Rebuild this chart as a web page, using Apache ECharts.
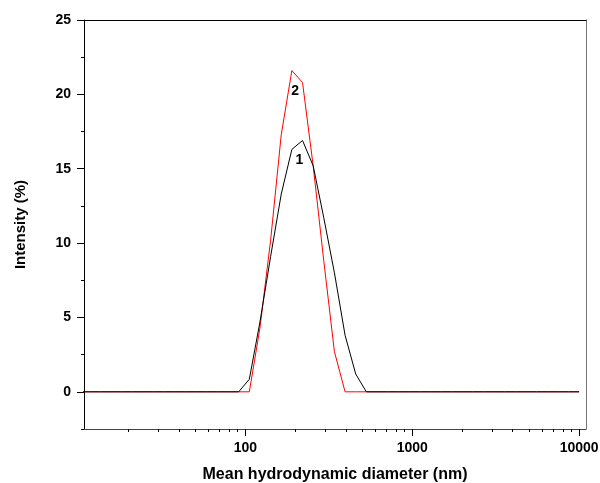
<!DOCTYPE html>
<html>
<head>
<meta charset="utf-8">
<script src="https://cdn.jsdelivr.net/npm/echarts@6/dist/echarts.min.js"></script>
<style>
  html, body { margin: 0; padding: 0; background: #fff; }
  #chart { width: 600px; height: 483px; }
</style>
</head>
<body>
<div id="chart"></div>
<script>
// size bins (nm), log spaced
var diameters = [10.1, 11.7, 13.54, 15.69, 18.17, 21.04, 24.36, 28.21, 32.67, 37.84,
    43.82, 50.75, 58.77, 68.06, 78.82, 91.28, 105.7, 122.4, 141.8, 164.2,
    190.1, 220.2, 255, 295.3, 342, 396.1, 458.7, 531.2, 615.1, 712.4,
    825, 955.4, 1106, 1281, 1484, 1718, 1990, 2305, 2669, 3091,
    3580, 4145, 4801, 5560, 6439, 7456, 8635, 10000];

// intensity (%) per bin
var sample1 = [0, 0, 0, 0, 0, 0, 0, 0, 0, 0,
    0, 0, 0, 0, 0, 0, 0.85, 4.7, 9.1, 13.3,
    16.3, 16.9, 15.2, 11.7, 8.0, 3.8, 1.2, 0, 0, 0,
    0, 0, 0, 0, 0, 0, 0, 0, 0, 0,
    0, 0, 0, 0, 0, 0, 0, 0];
var sample2 = [0, 0, 0, 0, 0, 0, 0, 0, 0, 0,
    0, 0, 0, 0, 0, 0, 0, 4.3, 10.2, 17.3,
    21.6, 20.8, 15.2, 8.8, 2.7, 0, 0, 0, 0, 0,
    0, 0, 0, 0, 0, 0, 0, 0, 0, 0,
    0, 0, 0, 0, 0, 0, 0, 0];

var xMajor = [100, 1000, 10000];
var xMinor = [20, 30, 40, 50, 60, 70, 80, 90,
    200, 300, 400, 500, 600, 700, 800, 900,
    2000, 3000, 4000, 5000, 6000, 7000, 8000, 9000];
var yMajor = [0, 5, 10, 15, 20, 25];
var yMinor = [-2.5, 2.5, 7.5, 12.5, 17.5, 22.5];

// curve tags: [diameter, intensity, text]
var tag1 = [211, 15.6, '1'];
var tag2 = [199, 20.2, '2'];

function pairs(xs, ys) {
    return xs.map(function (x, i) { return [x, ys[i]]; });
}

var font = 'Arial, "Liberation Sans", sans-serif';

function tag(t) {
    return {
        data: [{ coord: [t[0], t[1]], value: t[2] }],
        symbol: 'circle',
        symbolSize: 0,
        label: {
            show: true, position: 'inside', formatter: '{c}',
            color: '#000', fontSize: 14, fontWeight: 'bold', fontFamily: font
        }
    };
}

var xRange = { min: 10.8, max: 11000 };

var chart = echarts.init(document.getElementById('chart'));
chart.setOption({
    animation: false,
    grid: { left: 84, top: 20, right: 14, bottom: 54, outerBoundsMode: 'none', containLabel: false },
    xAxis: [
        {
            type: 'log', min: xRange.min, max: xRange.max, position: 'bottom',
            axisLine: { onZero: false, lineStyle: { color: '#444', width: 1 } },
            axisTick: { customValues: xMajor, length: 7, lineStyle: { color: '#000' } },
            axisLabel: {
                customValues: xMajor, margin: 12, color: '#000',
                fontSize: 14, fontWeight: 'bold', fontFamily: font,
                formatter: function (v) { return String(Math.round(v)); }
            },
            splitLine: { show: false },
            name: 'Mean hydrodynamic diameter (nm)',
            nameLocation: 'middle', nameGap: 38,
            nameTextStyle: { color: '#000', fontSize: 16, fontWeight: 'bold', fontFamily: font }
        },
        {
            type: 'log', min: xRange.min, max: xRange.max, position: 'bottom',
            axisLine: { show: false, onZero: false },
            axisTick: { customValues: xMinor, length: 3, lineStyle: { color: '#000' } },
            axisLabel: { show: false },
            splitLine: { show: false }
        },
        {
            type: 'log', min: xRange.min, max: xRange.max, position: 'top',
            axisLine: { onZero: false, lineStyle: { color: '#000', width: 1 } },
            axisTick: { show: false },
            axisLabel: { show: false },
            splitLine: { show: false }
        }
    ],
    yAxis: [
        {
            type: 'value', min: -2.5, max: 25, position: 'left',
            axisLine: { show: true, onZero: false, lineStyle: { color: '#000', width: 1 } },
            axisTick: { show: true, customValues: yMajor, length: 7, lineStyle: { color: '#000' } },
            axisLabel: {
                customValues: yMajor, margin: 13, color: '#000',
                fontSize: 14, fontWeight: 'bold', fontFamily: font
            },
            splitLine: { show: false },
            name: 'Intensity (%)',
            nameLocation: 'middle', nameRotate: 90, nameGap: 56,
            nameTextStyle: { color: '#000', fontSize: 15, fontWeight: 'bold', fontFamily: font }
        },
        {
            type: 'value', min: -2.5, max: 25, position: 'left',
            axisLine: { show: false, onZero: false },
            axisTick: { show: true, customValues: yMinor, length: 3, lineStyle: { color: '#000' } },
            axisLabel: { show: false },
            splitLine: { show: false }
        },
        {
            type: 'value', min: -2.5, max: 25, position: 'right',
            axisLine: { show: true, onZero: false, lineStyle: { color: '#777', width: 1 } },
            axisTick: { show: false },
            axisLabel: { show: false },
            splitLine: { show: false }
        }
    ],
    series: [
        {
            name: '2', type: 'line', data: pairs(diameters, sample2),
            showSymbol: false, clip: true,
            lineStyle: { color: '#ff0000', width: 1 },
            markPoint: tag(tag2)
        },
        {
            name: '1', type: 'line', data: pairs(diameters, sample1),
            showSymbol: false, clip: true,
            lineStyle: { color: '#000', width: 1 },
            markPoint: tag(tag1)
        }
    ]
});
</script>
</body>
</html>
